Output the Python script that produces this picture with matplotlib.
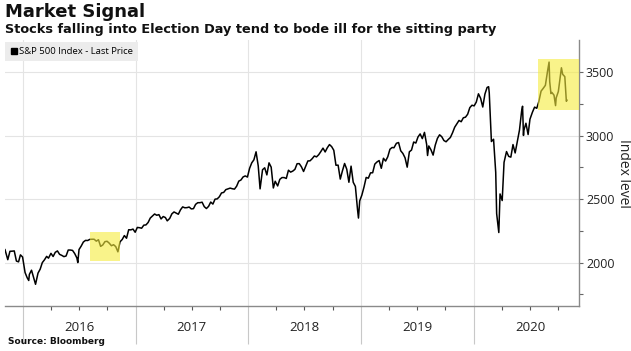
import matplotlib
matplotlib.use('Agg')
import matplotlib.pyplot as plt
import matplotlib.dates as mdates
import matplotlib.transforms as mtransforms
from matplotlib.lines import Line2D
import pandas as pd


# weekly-ish closes, one pair of lists per year
days_2015 = ['11-04', '11-13', '11-20', '11-27', '12-04', '12-11', '12-18', '12-24', '12-31']
px_2015 = [2102, 2023, 2089, 2090, 2092, 2012, 2006, 2061, 2044]

days_2016 = ['01-08', '01-15', '01-20', '01-22', '01-29', '02-05', '02-11', '02-19', '02-26',
             '03-04', '03-11', '03-18', '03-24', '04-01', '04-08', '04-15', '04-22', '04-29',
             '05-06', '05-13', '05-20', '05-27', '06-03', '06-10', '06-17', '06-24', '06-27',
             '07-01', '07-08', '07-15', '07-22', '07-29', '08-05', '08-12', '08-19', '08-26',
             '09-02', '09-09', '09-16', '09-23', '09-30', '10-07', '10-14', '10-21', '10-28',
             '11-04', '11-11', '11-18', '11-25', '12-02', '12-09', '12-16', '12-23', '12-30']
px_2016 = [1922, 1880, 1859, 1907, 1940, 1880, 1829, 1917, 1948,
           2000, 2022, 2049, 2035, 2073, 2048, 2081, 2092, 2065,
           2057, 2047, 2052, 2099, 2099, 2096, 2071, 2037, 2000,
           2103, 2130, 2162, 2175, 2174, 2183, 2184, 2184, 2169,
           2180, 2128, 2139, 2165, 2168, 2153, 2133, 2141, 2126,
           2085, 2164, 2182, 2213, 2192, 2259, 2258, 2264, 2239]

days_2017 = ['01-06', '01-13', '01-20', '01-27', '02-03', '02-10', '02-17', '02-24',
             '03-03', '03-10', '03-17', '03-24', '03-31', '04-07', '04-13', '04-21', '04-28',
             '05-05', '05-12', '05-19', '05-26', '06-02', '06-09', '06-16', '06-23', '06-30',
             '07-07', '07-14', '07-21', '07-28', '08-04', '08-11', '08-18', '08-25',
             '09-01', '09-08', '09-15', '09-22', '09-29', '10-06', '10-13', '10-20', '10-27',
             '11-03', '11-10', '11-17', '11-24', '12-01', '12-08', '12-15', '12-22', '12-29']
px_2017 = [2277, 2275, 2271, 2295, 2297, 2316, 2351, 2367,
           2383, 2373, 2378, 2344, 2363, 2355, 2329, 2348, 2384,
           2399, 2390, 2381, 2416, 2439, 2432, 2433, 2438, 2423,
           2425, 2459, 2472, 2472, 2476, 2441, 2426, 2443,
           2477, 2461, 2500, 2502, 2519, 2549, 2553, 2575, 2581,
           2587, 2582, 2579, 2602, 2642, 2651, 2675, 2683, 2674]

days_2018 = ['01-05', '01-12', '01-19', '01-26', '02-02', '02-08', '02-16', '02-23',
             '03-02', '03-09', '03-16', '03-23', '03-29', '04-06', '04-13', '04-20', '04-27',
             '05-04', '05-11', '05-18', '05-25', '06-01', '06-08', '06-15', '06-22', '06-29',
             '07-06', '07-13', '07-20', '07-27', '08-03', '08-10', '08-17', '08-24', '08-31',
             '09-07', '09-14', '09-21', '09-28', '10-05', '10-12', '10-19', '10-26',
             '11-02', '11-09', '11-16', '11-23', '11-30', '12-07', '12-14', '12-21', '12-24', '12-28']
px_2018 = [2743, 2786, 2810, 2873, 2762, 2581, 2732, 2747,
           2691, 2786, 2752, 2588, 2641, 2604, 2656, 2670, 2670,
           2663, 2728, 2713, 2721, 2735, 2779, 2780, 2755, 2718,
           2760, 2801, 2802, 2819, 2840, 2833, 2850, 2875, 2902,
           2872, 2905, 2930, 2914, 2885, 2767, 2768, 2658,
           2723, 2781, 2736, 2633, 2760, 2633, 2600, 2417, 2351, 2486]

days_2019 = ['01-04', '01-11', '01-18', '01-25', '02-01', '02-08', '02-15', '02-22',
             '03-01', '03-08', '03-15', '03-22', '03-29', '04-05', '04-12', '04-18', '04-26',
             '05-03', '05-10', '05-17', '05-24', '05-31', '06-07', '06-14', '06-21', '06-28',
             '07-05', '07-12', '07-19', '07-26', '08-02', '08-05', '08-09', '08-16', '08-23', '08-30',
             '09-06', '09-13', '09-20', '09-27', '10-04', '10-11', '10-18', '10-25',
             '11-01', '11-08', '11-15', '11-22', '11-29', '12-06', '12-13', '12-20', '12-27']
px_2019 = [2532, 2596, 2671, 2665, 2707, 2708, 2776, 2793,
           2804, 2743, 2822, 2800, 2834, 2893, 2907, 2905, 2940,
           2946, 2881, 2860, 2826, 2752, 2873, 2887, 2950, 2942,
           2990, 3014, 2977, 3026, 2932, 2844, 2919, 2889, 2847, 2926,
           2979, 3007, 2992, 2962, 2952, 2970, 2986, 3023,
           3067, 3093, 3120, 3110, 3141, 3146, 3169, 3221, 3240]

days_2020 = ['01-03', '01-10', '01-17', '01-24', '01-31', '02-07', '02-14', '02-19', '02-21', '02-28',
             '03-06', '03-13', '03-16', '03-20', '03-23', '03-27', '04-03', '04-09', '04-17', '04-24',
             '05-01', '05-08', '05-15', '05-22', '05-29', '06-05', '06-08', '06-11', '06-12', '06-19', '06-26',
             '07-02', '07-10', '07-17', '07-24', '07-31', '08-07', '08-14', '08-21', '08-28',
             '09-02', '09-04', '09-08', '09-11', '09-18', '09-23', '09-25',
             '10-02', '10-09', '10-12', '10-16', '10-23', '10-28', '10-30']
px_2020 = [3235, 3265, 3330, 3295, 3226, 3328, 3380, 3386, 3338, 2954,
           2972, 2711, 2386, 2305, 2237, 2541, 2489, 2790, 2875, 2837,
           2831, 2930, 2864, 2955, 3044, 3194, 3232, 3002, 3041, 3098, 3009,
           3130, 3185, 3225, 3216, 3271, 3351, 3373, 3397, 3508,
           3580, 3427, 3332, 3341, 3319, 3237, 3298,
           3348, 3477, 3535, 3484, 3465, 3271, 3280]

years = ['2016', '2017', '2018', '2019', '2020']

# highlighted windows before each election: (start, end, low, high)
box_2016 = ('2016-08-07', '2016-11-10', 2015, 2245)
box_2020 = ('2020-07-27', '2020-12-08', 3203, 3605)


def main():
    days = []
    closes = []
    for yr, d, p in [('2015', days_2015, px_2015), ('2016', days_2016, px_2016),
                     ('2017', days_2017, px_2017), ('2018', days_2018, px_2018),
                     ('2019', days_2019, px_2019), ('2020', days_2020, px_2020)]:
        days += [yr + '-' + s for s in d]
        closes += p
    dates = pd.to_datetime(days)

    fig = plt.figure(figsize=(6.31, 3.51), dpi=100)
    ax = fig.add_axes([5 / 631, 1 - 306 / 351, 574 / 631, 266 / 351])

    ax.plot(dates, closes, color='black', lw=1.1, zorder=3)

    # yellow boxes sit over the line, so it shows through olive
    for start, end, lo, hi in [box_2016, box_2020]:
        s = mdates.date2num(pd.Timestamp(start))
        e = mdates.date2num(pd.Timestamp(end))
        ax.add_patch(plt.Rectangle((s, lo), e - s, hi - lo, facecolor='#f5eb3c',
                                   alpha=0.6, edgecolor='none', zorder=4))

    ax.set_xlim(pd.Timestamp('2015-11-04'), pd.Timestamp('2020-12-08'))
    ax.set_ylim(1658, 3754)

    # spines
    for side in ['left', 'top']:
        ax.spines[side].set_visible(False)
    for side in ['bottom', 'right']:
        ax.spines[side].set_color('#8a8a8a')
        ax.spines[side].set_linewidth(1.0)

    # y axis on the right
    ax.yaxis.tick_right()
    ax.set_yticks([2000, 2500, 3000, 3500])
    ax.set_yticks([1750, 2250, 2750, 3250], minor=True)
    ax.tick_params(axis='y', which='both', length=3, width=0.8, color='#666666',
                   labelsize=9, pad=2, labelcolor='#222222')
    for lbl in ax.get_yticklabels():
        lbl.set_family('Open Sans')
    ax.yaxis.set_label_position('right')
    ax.set_ylabel('Index level', rotation=270, fontsize=10, family='Open Sans',
                  color='#222222', labelpad=12)

    # x axis: long light ticks at year starts, short ones at quarters
    year_starts = [pd.Timestamp(y + '-01-01') for y in years]
    quarters = [pd.Timestamp(y + '-' + m + '-01') for y in ['2015'] + years
                for m in ['04', '07', '10']]
    quarters = [q for q in quarters if q > pd.Timestamp('2015-11-04')]
    ax.set_xticks(year_starts)
    ax.set_xticklabels([])
    ax.set_xticks(quarters, minor=True)
    ax.tick_params(axis='x', which='major', length=27, width=0.8, color='#c8c8c8')
    ax.tick_params(axis='x', which='minor', length=3, width=0.8, color='#555555')

    trans = mtransforms.blended_transform_factory(ax.transData, ax.transAxes)
    for y in years:
        ax.text(pd.Timestamp(y + '-07-02'), -0.08, y, transform=trans, ha='center',
                va='center', fontsize=9.5, family='Open Sans', color='#222222')

    # grid
    ax.grid(True, which='major', color='#e4e4e4', lw=0.8, zorder=0)

    # legend
    handle = Line2D([], [], color='black', marker='s', linestyle='none', markersize=4.2)
    leg = ax.legend([handle], ['S&P 500 Index - Last Price'], loc='upper left',
                    bbox_to_anchor=(0.0, 0.992), borderaxespad=0.0, frameon=True,
                    fancybox=False, handletextpad=0.1, handlelength=0.9,
                    borderpad=0.5, prop={'family': 'Open Sans', 'size': 6.8})
    leg.get_frame().set_facecolor('#ececec')
    leg.get_frame().set_edgecolor('none')
    leg.get_frame().set_alpha(1.0)
    leg.set_zorder(5)

    # titles
    fig.text(5 / 631, 1 - 12 / 351, 'Market Signal', fontsize=13, fontweight='bold',
             family='DejaVu Sans', va='center', ha='left', color='#111111')
    fig.text(5 / 631, 1 - 30 / 351,
             'Stocks falling into Election Day tend to bode ill for the sitting party',
             fontsize=9.3, fontweight='bold', family='DejaVu Sans', va='center',
             ha='left', color='#111111')
    fig.text(8 / 631, 1 - 341 / 351, 'Source: Bloomberg', fontsize=6.5, fontweight='bold',
             family='DejaVu Sans', va='center', ha='left', color='#111111')

    fig.savefig('out.png', dpi=100)


if (__name__ == '__main__'):
    main()
